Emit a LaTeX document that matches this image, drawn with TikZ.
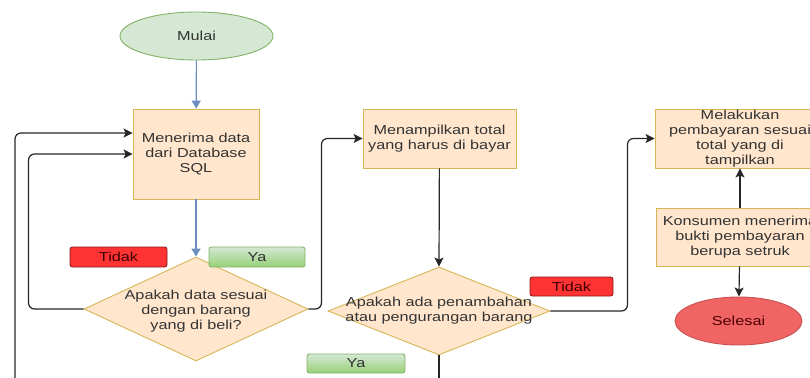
\documentclass[tikz,border=0pt]{standalone}
\usepackage{fontspec}
\setmainfont{Liberation Sans}[FakeStretch=1.25]
\usetikzlibrary{shapes.geometric,arrows.meta}
\definecolor{boxfill}{HTML}{FFE6CC}
\definecolor{boxline}{HTML}{D6B656}
\definecolor{startfill}{HTML}{D5E8D4}
\definecolor{startline}{HTML}{82B366}
\definecolor{yatop}{HTML}{D5E8D4}
\definecolor{yabot}{HTML}{97D077}
\definecolor{nofill}{HTML}{FF3333}
\definecolor{noline}{HTML}{8B1A1A}
\definecolor{endfill}{HTML}{F06464}
\definecolor{endline}{HTML}{C85050}
\definecolor{bluearrow}{HTML}{6C8EBF}
\definecolor{txt}{HTML}{333333}
\tikzset{
  base/.style={font=\fontsize{13}{15}\selectfont, text=txt, align=center, inner sep=0pt, line width=0.9pt},
  procbox/.style={base, rectangle, draw=boxline, fill=boxfill},
  decbox/.style={base, diamond, draw=boxline, fill=boxfill},
  startshape/.style={base, ellipse, draw=startline, fill=startfill},
  endshape/.style={base, ellipse, draw=endline, fill=endfill, text=black!70!red},
  yalabel/.style={base, rectangle, rounded corners=2.5pt, draw=startline, top color=yatop, bottom color=yabot, minimum width=96pt, minimum height=20pt},
  nolabel/.style={base, rectangle, rounded corners=2.5pt, draw=noline, fill=nofill, text=black!75!red, minimum height=20pt},
  flowblue/.style={draw=bluearrow, line width=1.2pt, -{Triangle[length=8pt,width=9pt]}},
  flow/.style={draw=black!85, line width=1.2pt, rounded corners=6pt, -{Stealth[length=9pt,width=9pt,inset=2pt]}},
  flowplain/.style={draw=black!85, line width=1.2pt},
}
\begin{document}
\begin{tikzpicture}[x=1pt,y=-1pt]
\useasboundingbox (0,0) rectangle (810,377);
\clip (0,0) rectangle (810,377);
% nodes
\node[startshape, minimum width=153pt, minimum height=48pt] (mulai) at (196.5,36) {Mulai};
\node[procbox, minimum width=126pt, minimum height=90pt] (terima) at (196,154) {Menerima data\\dari Database\\SQL};
\node[decbox, minimum width=224pt, minimum height=104pt] (cek) at (196,309) {};
\node[base] (cektxt) at (196,311) {Apakah data sesuai\\dengan barang\\yang di beli?};
\node[nolabel, minimum width=97pt] (tidak1) at (118.5,257) {Tidak};
\node[yalabel] (ya1) at (257,257) {Ya};
\node[procbox, minimum width=153pt, minimum height=59pt] (tampil) at (439.5,138.5) {Menampilkan total\\yang harus di bayar};
\node[decbox, minimum width=222pt, minimum height=88pt] (tambah) at (439,311) {};
\node[base] (tambahtxt) at (439,311) {Apakah ada penambahan\\atau pengurangan barang};
\node[nolabel, minimum width=83pt, minimum height=19pt] (tidak2) at (571.5,286.5) {Tidak};
\node[yalabel, minimum width=98pt, minimum height=19pt] (ya2) at (356,363.5) {Ya};
\node[procbox, minimum width=170pt, minimum height=59pt] (bayar) at (740,138.5) {Melakukan\\pembayaran sesuai\\total yang di\\tampilkan};
\node[procbox, minimum width=168pt, minimum height=58pt] (struk) at (740,237) {Konsumen menerima\\bukti pembayaran\\berupa setruk};
\node[endshape, minimum width=127pt, minimum height=48pt] (selesai) at (738.5,321) {Selesai};
\coordinate (loopin) at (15,385);
\coordinate (downout) at (439,385);
% connectors
\draw[flowblue] (mulai) -- (terima);
\draw[flowblue] (terima) -- (cek.north);
\draw[flow] (cek.west) -- ++(-55,0) |- (terima.west);
\draw[flow] (loopin) |- ([yshift=21pt]terima.west);
\draw[flow] (cek.east) -- ++(13,0) |- (tampil.west);
\draw[flow] (tampil) -- (tambah.north);
\draw[flowplain] (tambah.south) -- (downout);
\draw[flow] (tambah.east) -- ++(77,0) |- (bayar.west);
\draw[flow] (struk) -- (bayar);
\draw[flow] (struk) -- (selesai);
\end{tikzpicture}
\end{document}
